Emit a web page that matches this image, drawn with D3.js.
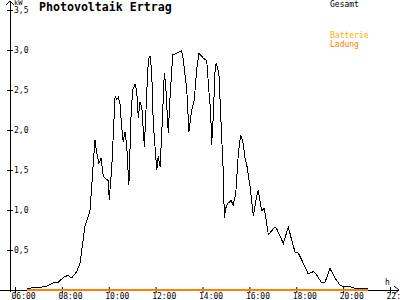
<!DOCTYPE html>
<html>
<head>
<meta charset="utf-8">
<script src="https://cdn.jsdelivr.net/npm/d3@7"></script>
<style>
  body { margin: 0; background: #fff; }
  svg { display: block; }
  text { font-family: "DejaVu Sans Mono", monospace; }
</style>
</head>
<body>
<script>
// Stunden (dezimal) und Leistung in kW
const hours = [6.51, 6.85, 7.28, 7.42, 7.71, 7.85, 8.13, 8.27, 8.42, 8.63, 8.77, 8.91, 8.99, 9.13, 9.20,
  9.34, 9.41, 9.49, 9.58, 9.67, 9.77, 9.91, 9.98, 10.02, 10.13, 10.19, 10.27, 10.34, 10.41, 10.48,
  10.55, 10.62, 10.69, 10.77, 10.83, 10.86, 10.95, 11.02, 11.12, 11.19, 11.26, 11.33, 11.41, 11.52,
  11.62, 11.69, 11.76, 11.83, 11.90, 12.05, 12.11, 12.19, 12.28, 12.37, 12.43, 12.54, 12.61, 12.73,
  12.90, 13.11, 13.18, 13.33, 13.42, 13.54, 13.65, 13.75, 13.85, 14.03, 14.18, 14.28, 14.35, 14.39,
  14.46, 14.53, 14.58, 14.63, 14.70, 14.82, 14.89, 14.93, 14.99, 15.07, 15.22, 15.31, 15.42, 15.53,
  15.63, 15.74, 15.81, 15.88, 16.03, 16.17, 16.31, 16.38, 16.52, 16.64, 16.81, 17.09, 17.16, 17.45,
  17.66, 17.80, 17.95, 18.09, 18.23, 18.51, 18.73, 18.87, 19.08, 19.23, 19.44, 19.65, 19.87, 20.01,
  20.22, 20.50, 21.06];
const gesamt = [0.02, 0.03, 0.04, 0.06, 0.10, 0.10, 0.17, 0.18, 0.15, 0.23, 0.33, 0.63, 0.81, 0.92, 1.00,
  1.58, 1.88, 1.71, 1.58, 1.65, 1.42, 1.38, 1.37, 1.13, 1.54, 1.92, 2.42, 2.38, 2.41, 2.33,
  2.04, 1.85, 1.98, 1.79, 1.46, 1.31, 2.17, 2.50, 2.57, 2.50, 2.15, 2.35, 2.29, 1.79,
  2.46, 2.88, 2.92, 2.75, 2.08, 1.50, 1.67, 1.54, 2.08, 2.71, 2.56, 1.96, 2.38, 2.94,
  2.96, 2.99, 2.88, 2.50, 1.98, 2.25, 2.38, 2.75, 2.96, 2.90, 2.87, 2.46, 2.23, 1.81,
  2.17, 2.71, 2.84, 2.79, 2.71, 1.90, 1.46, 0.90, 1.02, 1.08, 1.12, 1.06, 1.21, 1.71,
  1.94, 1.83, 1.65, 1.58, 1.29, 0.92, 1.17, 1.25, 0.99, 1.02, 0.69, 0.79, 0.77, 0.58,
  0.79, 0.63, 0.47, 0.46, 0.38, 0.20, 0.23, 0.19, 0.09, 0.10, 0.27, 0.15, 0.06, 0.04,
  0.05, 0.02, 0.02];

// Batterie-Ladung: liegt den ganzen Tag auf 0
const ladungHours = [6.51, 21.06];
const ladung = [0, 0];

const xTicks = [6, 8, 10, 12, 14, 16, 18, 20, 22];
const yTicks = [0.5, 1.0, 1.5, 2.0, 2.5, 3.0, 3.5];

const width = 400, height = 300;
const svg = d3.select("body").append("svg")
  .attr("width", width)
  .attr("height", height);

const x = d3.scaleLinear().domain([6, 22]).range([15, 390]);
const y = d3.scaleLinear().domain([0, 3.5]).range([290, 10]);

// X-Achse
const xAxis = svg.append("g")
  .attr("transform", "translate(0," + y(0) + ")")
  .call(d3.axisBottom(x).tickValues(xTicks).tickSize(0)
    .tickFormat(d => String(d).padStart(2, "0") + ":00"));
xAxis.select(".domain").remove();
xAxis.selectAll(".tick line").attr("y1", -3).attr("y2", 3).attr("stroke", "#000");
xAxis.selectAll(".tick text")
  .attr("text-anchor", "start").attr("x", -4).attr("y", 9).attr("dy", 0)
  .attr("font-size", 8).attr("fill", "#000");

// Y-Achse
const yAxis = svg.append("g")
  .attr("transform", "translate(10,0)")
  .call(d3.axisLeft(y).tickValues(yTicks).tickSize(0)
    .tickFormat(d => d3.format(".1f")(d).replace(".", ",")));
yAxis.select(".domain").remove();
yAxis.selectAll(".tick line").attr("x1", -3).attr("x2", 3).attr("stroke", "#000");
yAxis.selectAll(".tick text")
  .attr("text-anchor", "start").attr("x", 4)
  .attr("font-size", 8).attr("fill", "#000");

// Achslinien mit Pfeilen
const axes = svg.append("g").attr("stroke", "#000").attr("fill", "none")
  .attr("shape-rendering", "crispEdges");
axes.append("line").attr("x1", 0).attr("x2", 399).attr("y1", y(0)).attr("y2", y(0));
axes.append("line").attr("x1", 10).attr("x2", 10).attr("y1", y(0) + 2).attr("y2", 1);
axes.append("path").attr("shape-rendering", "auto")
  .attr("d", "M394," + (y(0) - 4) + "L399," + y(0) + "L394," + (y(0) + 4));
axes.append("path").attr("shape-rendering", "auto")
  .attr("d", "M6,5L10,1L14,5");

svg.append("text").attr("x", 14).attr("y", 5).attr("font-size", 7).text("kW");
svg.append("text").attr("x", 385).attr("y", 285).attr("font-size", 8).text("h");

// Ladung (orange, auf der Nulllinie)
svg.append("path")
  .datum(ladungHours.map((h, i) => [h, ladung[i]]))
  .attr("fill", "none")
  .attr("stroke", "#ff8000")
  .attr("stroke-width", 2)
  .attr("shape-rendering", "crispEdges")
  .attr("d", d3.line().x(d => x(d[0])).y(d => y(d[1])));

// Gesamt
svg.append("path")
  .datum(hours.map((h, i) => [h, gesamt[i]]))
  .attr("fill", "none")
  .attr("stroke", "#000")
  .attr("stroke-width", 1)
  .attr("shape-rendering", "crispEdges")
  .attr("d", d3.line().x(d => x(d[0])).y(d => y(d[1])));

// Titel
svg.append("text").attr("x", 39).attr("y", 11)
  .attr("font-size", 11.6).attr("font-weight", "bold")
  .text("Photovoltaik Ertrag");

// Legende
const legend = [
  {name: "Gesamt", color: "#000", y: 7},
  {name: "Batterie", color: "#ffaa00", y: 38},
  {name: "Ladung", color: "#ff8000", y: 47}
];
svg.append("g").selectAll("text")
  .data(legend)
  .join("text")
  .attr("x", 330)
  .attr("y", d => d.y)
  .attr("font-size", 8)
  .attr("fill", d => d.color)
  .text(d => d.name);
</script>
</body>
</html>
